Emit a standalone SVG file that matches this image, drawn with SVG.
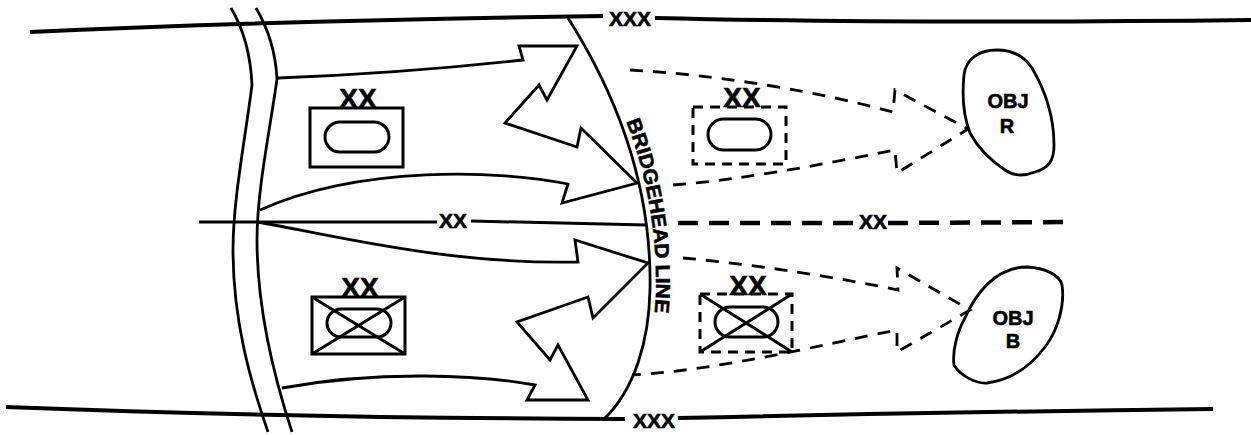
<svg xmlns="http://www.w3.org/2000/svg" width="1251" height="435" viewBox="0 0 1251 435">
<style>
.bd{fill:none;stroke:#000;stroke-width:4;stroke-linecap:butt}
.ln{fill:none;stroke:#000;stroke-width:2.8;stroke-linejoin:miter}
.dl{fill:none;stroke:#000;stroke-width:4.5;stroke-dasharray:20 11}
.da{fill:none;stroke:#000;stroke-width:2.8;stroke-dasharray:13 10}
.dr{fill:none;stroke:#000;stroke-width:3;stroke-dasharray:10 7}
.box{fill:none;stroke:#000;stroke-width:3}
.t{font-family:"Liberation Sans",Arial,sans-serif;font-weight:700;fill:#000;stroke:#000;stroke-width:0.6;text-anchor:middle}
.lab{font-size:21px}
.ux{font-size:28px}
.obj{font-size:20px}
</style>
<rect width="1251" height="435" fill="#fff"/>
<g id="boundaries">
<path class="bd" d="M30,32 Q300,20 603,16"/>
<path class="bd" d="M655,18 Q900,24 1251,20"/>
<text class="t lab" x="630" y="26">XXX</text>
<path class="bd" d="M6,407 Q300,418 625,419"/>
<path class="bd" d="M678,418 Q950,412 1213,409"/>
<text class="t lab" x="654" y="428">XXX</text>
<path class="ln" style="stroke-width:3" d="M199,222 L437,222"/>
<path class="ln" style="stroke-width:3" d="M471,221 L647,225"/>
<text class="t lab" x="453" y="228">XX</text>
<path class="dl" d="M678,223 L860,223"/>
<path class="dl" d="M888,223 L1070,222"/>
<text class="t lab" x="873" y="229">XX</text>
</g>
<g id="river">
<path class="ln" d="M231,8 Q250,40 252,85 C245,140 233,200 233,250 C233,320 250,380 268,432"/>
<path class="ln" d="M256,8 Q275,40 277,79 C270,130 257,190 257,240 C257,310 275,380 292,432"/>
</g>
<g id="bridgehead">
<path class="ln" d="M568,18 C620,100 652,190 650,290 C649,340 635,390 603,420"/>
<path id="bhText" fill="none" d="M574,18 C626,100 658,190 656,290 C655,340 641,390 609,420"/>
<text class="t" style="font-size:20px;text-anchor:start"><textPath href="#bhText" startOffset="116" textLength="195" lengthAdjust="spacingAndGlyphs">BRIDGEHEAD LINE</textPath></text>
</g>
<g id="connectors">
<path class="ln" d="M278,78 C360,75 450,68 523,60 L519,46 L577,46 L547,100 L539,85 L505,123 L577,147 L581,128 L637,183 L562,203 L568,184 C500,170 360,165 260,210"/>
<path class="ln" d="M258,222 C330,235 450,265 578,262 L575,240 L648,263 L593,318 L588,297 L517,322 L550,360 L558,345 L588,400 L527,400 L535,385 C480,375 380,370 282,388"/>
<path class="da" d="M630,70 C720,75 820,92 893,112 L895,90 L968,129 L897,173 L895,150 C820,165 740,180 673,185"/>
<path class="da" d="M683,258 C760,265 840,278 898,290 L897,268 L970,310 L897,352 L897,330 C820,345 720,370 632,375"/>
</g>
<g id="unit-armor-1">
<rect class="box" x="310" y="108" width="93" height="59"/>
<rect class="box" x="325" y="122" width="64" height="30" rx="15"/>
<text class="t ux" x="358" y="108">XX</text>
</g>
<g id="unit-mech-1">
<rect class="box" x="312" y="297" width="93" height="57"/>
<rect class="box" x="327" y="309" width="64" height="28" rx="14"/>
<path class="box" d="M312,297 L405,354 M405,297 L312,354"/>
<text class="t ux" x="360" y="297">XX</text>
</g>
<g id="unit-armor-2">
<rect class="dr" x="693" y="107" width="93" height="57"/>
<rect class="box" x="708" y="119" width="63" height="31" rx="15.5"/>
<text class="t ux" x="742" y="107">XX</text>
</g>
<g id="unit-mech-2">
<rect class="dr" x="700" y="294" width="92" height="58"/>
<rect class="box" x="715" y="307" width="63" height="30" rx="15"/>
<path class="box" d="M700,294 L792,352 M792,294 L700,352"/>
<text class="t ux" x="748" y="295">XX</text>
</g>
<g id="obj-r">
<path class="ln" d="M997,50 C1012,50 1024,56 1032,68 C1045,90 1054,115 1054,145 C1054,162 1048,168 1035,172 C1025,176 1015,177 1005,170 C990,160 978,148 970,133 C963,115 962,95 964,75 C966,58 980,50 997,50 Z"/>
<text class="t obj" x="1008" y="108">OBJ</text>
<text class="t obj" x="1007" y="133">R</text>
</g>
<g id="obj-b">
<path class="ln" d="M1027,267 C1045,268 1060,275 1062,285 C1065,305 1058,330 1045,347 C1030,367 1010,380 987,383 C975,384 960,375 954,365 C952,350 958,330 965,318 C975,295 995,267 1027,267 Z"/>
<text class="t obj" x="1013" y="325">OBJ</text>
<text class="t obj" x="1013" y="348">B</text>
</g>
</svg>
